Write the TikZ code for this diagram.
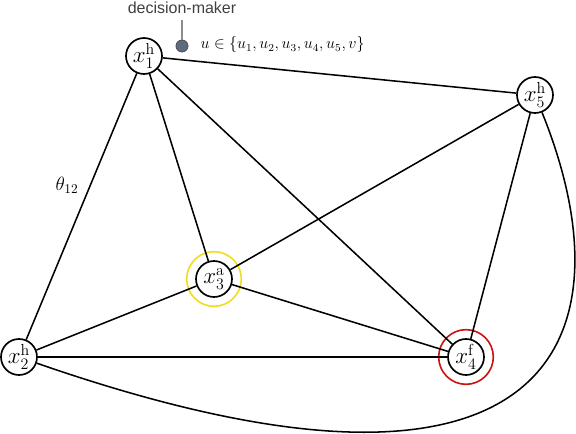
\documentclass[tikz,border=0pt]{standalone}
\usepackage{amsmath, amssymb}
\usepackage{fontspec}
\newfontfamily\dmfont{Liberation Sans}
\usetikzlibrary{positioning}
\definecolor{dmfill}{HTML}{5B6B80}
\definecolor{ringyellow}{HTML}{F2DC1E}
\definecolor{ringred}{HTML}{CC1111}

\begin{document}
\begin{tikzpicture}[
		x=0.75pt, y=-0.75pt,
		agent/.style={draw, circle, line width=1.25pt, fill=white, minimum size=27pt, inner sep=0pt, font=\LARGE},
		ring/.style={draw=#1, circle, line width=1.2pt, minimum size=41pt, inner sep=0pt},
		edge/.style={line width=1.15pt},
		dm/.style={draw=black!70, circle, fill=dmfill, line width=0.6pt, minimum size=9pt, inner sep=0pt}
		]
		\useasboundingbox (0,0) rectangle (576,434);
		
		% AGENT NODES
		\node[ring=ringyellow] (r3) at (214,279) {};
		\node[ring=ringred] (r4) at (466,357) {};
		\node[agent] (x1) at (144,56) {$x_1^{\mathrm{h}}$};
		\node[agent] (x2) at (19,357) {$x_2^{\mathrm{h}}$};
		\node[agent] (x3) at (214,279) {$x_3^{\mathrm{a}}$};
		\node[agent] (x4) at (466,357) {$x_4^{\mathrm{f}}$};
		\node[agent] (x5) at (535,95) {$x_5^{\mathrm{h}}$};
		
		% DECISION-MAKER
		\node[dm] (dm) at (182,46) {};
		\coordinate (pin) at (182,20);
		\draw[line width=1.2pt, black!45] (dm) -- (pin);
		\node[font=\dmfont\large, text=black!75] (dmlabel) at (182,8) {decision-maker};
		\node[anchor=west, font=\large] (ulabel) at (196,45) {$u \in \{u_1, u_2, u_3, u_4, u_5, v\}$};
		
		% CONNECTIONS
		\draw[edge] (x1) -- (x5);
		\draw[edge] (x1) -- (x3);
		\draw[edge] (x1) -- (x4);
		\draw[edge] (x1) -- (x2) node[pos=0.42, left=5pt, font=\Large] (theta) {$\theta_{12}$};
		\draw[edge] (x2) -- (x3);
		\draw[edge] (x2) -- (x4);
		\draw[edge] (x3) -- (x4);
		\draw[edge] (x3) -- (x5);
		\draw[edge] (x5) -- (x4);
		\draw[edge] (x5) .. controls (632,335) and (560,545) .. (x2);
		
	\end{tikzpicture}
\end{document}
